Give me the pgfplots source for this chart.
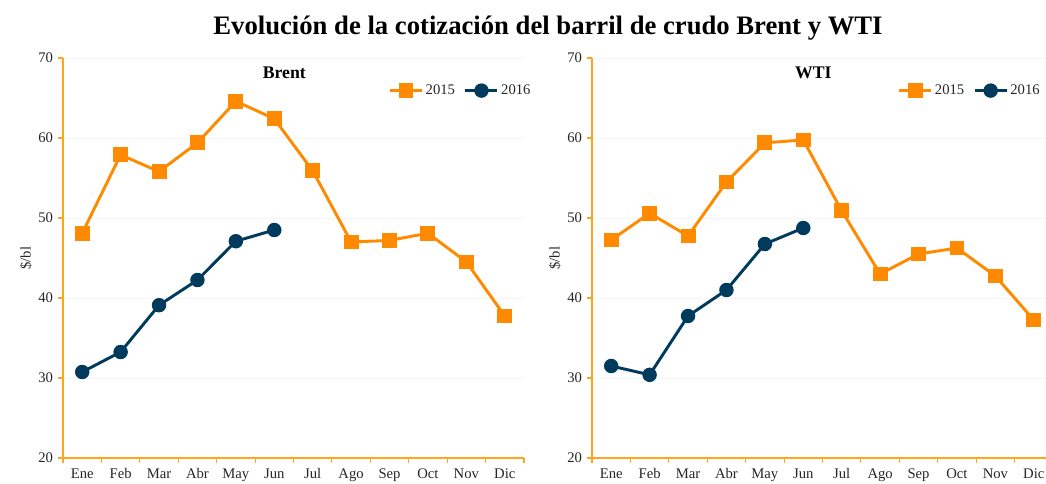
\documentclass[border=0pt]{standalone}
\usepackage{fontspec}
\setmainfont{Liberation Serif}
\usepackage{pgfplots}
\pgfplotsset{compat=1.18}
\definecolor{orng}{HTML}{FF8A00}
\definecolor{navy}{HTML}{003A5C}
\definecolor{axo}{HTML}{FFA41C}
\pgfplotsset{
  chartstyle/.style={
    scale only axis,
    width=345.75pt, height=300pt,
    xmin=-0.5, xmax=11.5, ymin=20, ymax=70,
    xtick={-0.5,0.5,...,11.5},
    x tick label as interval,
    xticklabels={Ene,Feb,Mar,Abr,May,Jun,Jul,Ago,Sep,Oct,Nov,Dic},
    ytick={20,30,...,70},
    axis x line*=bottom, axis y line*=left,
    axis line style={-, draw=axo, line width=0.8pt},
    tick style={draw=axo, line width=0.8pt},
    tick align=outside, major tick length=4pt,
    ymajorgrids, grid style={draw=gray!8, line width=0.6pt},
    tick label style={font=\fontsize{11}{11}\selectfont, text=black!85},
    xticklabel style={text height=7.5pt, text depth=2.5pt},
    /pgf/number format/assume math mode=true,
    ylabel={\$/bl}, ylabel style={font=\fontsize{11}{11}\selectfont, text=black!85},
    ylabel shift=-2pt,
    title style={font=\bfseries\fontsize{13.3}{13.3}\selectfont, at={(0.48,0.97)}, anchor=north},
    legend columns=2,
    legend style={draw=none, fill=none, font=\fontsize{11}{11}\selectfont, text=black!85,
      /tikz/every even column/.append style={column sep=5pt}, inner sep=0pt,
      nodes={inner sep=1.5pt}},
    legend image code/.code={
      \draw[#1, line width=2.6pt, mark=none] (0pt,0.3pt) -- (24pt,0.3pt);
      \draw[#1] plot coordinates {(12pt,0.3pt)};},
    clip=false,
  },
  s15/.style={color=orng, line width=2.2pt, mark=square*, mark size=4.5pt, mark options={solid, fill=orng, draw=none}},
  s16/.style={color=navy, line width=2.2pt, mark=*, mark size=4.3pt, mark options={solid, fill=navy, draw=none}},
}
\begin{document}
\begin{tikzpicture}
\begin{axis}[chartstyle, at={(47.25pt,18.75pt)}, anchor=south west, title={Brent},
  legend style={at={(0.705,0.9175)}, anchor=west}]
\addplot[s15] coordinates {(0,48.1) (1,57.9) (2,55.8) (3,59.4) (4,64.6) (5,62.4) (6,55.9) (7,47.0) (8,47.2) (9,48.1) (10,44.5) (11,37.75)};
\addplot[s16] coordinates {(0,30.75) (1,33.25) (2,39.1) (3,42.25) (4,47.1) (5,48.5)};
\legend{2015,2016}
\end{axis}
\begin{axis}[chartstyle, at={(444pt,18.75pt)}, anchor=south west, title={WTI},
  legend style={at={(0.662,0.9175)}, anchor=west}]
\addplot[s15] coordinates {(0,47.25) (1,50.6) (2,47.75) (3,54.5) (4,59.4) (5,59.75) (6,50.9) (7,43.0) (8,45.5) (9,46.25) (10,42.75) (11,37.25)};
\addplot[s16] coordinates {(0,31.5) (1,30.4) (2,37.75) (3,41.0) (4,46.75) (5,48.75)};
\legend{2015,2016}
\end{axis}
\node[font=\bfseries\fontsize{20}{20}\selectfont] at (411pt,341.5pt) {Evolución de la cotización del barril de crudo Brent y WTI};
\pgfresetboundingbox
\path[use as bounding box] (0pt,0pt) rectangle (784.5pt,362.25pt);
\end{tikzpicture}
\end{document}
